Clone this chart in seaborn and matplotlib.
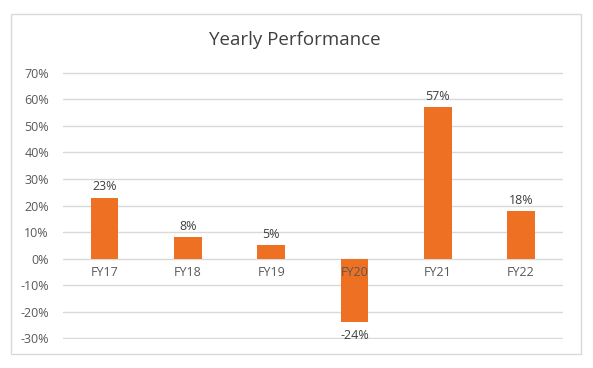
import matplotlib
matplotlib.use("Agg")
import matplotlib.pyplot as plt
import matplotlib.ticker as mticker
import matplotlib.transforms as mtrans
import seaborn as sns
import pandas as pd

# ── Data ──────────────────────────────────────────────────────────────────────
years   = ["FY17", "FY18", "FY19", "FY20", "FY21", "FY22"]
returns = [0.23, 0.08, 0.05, -0.24, 0.57, 0.18]

ORANGE = "#EE7023"
GREY   = "#595959"
GRID   = "#D9D9D9"

sns.set_theme(style="white")
plt.rcParams["font.family"] = ["Open Sans", "DejaVu Sans"]

df = pd.DataFrame({"year": years, "ret": returns})

fig = plt.figure(figsize=(5.93, 3.68), dpi=100)
ax = fig.add_axes([0.106, 0.079, 0.843, 0.725])

sns.barplot(data=df, x="year", y="ret", color=ORANGE, saturation=1,
            width=0.33, linewidth=0, ax=ax, zorder=3)

ax.set_ylim(-0.302, 0.702)
ax.set_xlim(-0.5, len(years) - 0.5)
ax.yaxis.set_major_locator(mticker.FixedLocator([i / 10 for i in range(-3, 8)]))
ax.yaxis.set_major_formatter(mticker.FuncFormatter(lambda v, _: f"{round(v*100):d}%"))
ax.grid(axis="y", color=GRID, linewidth=1, zorder=0)
for s in ax.spines.values():
    s.set_visible(False)
ax.tick_params(axis="y", length=0, labelsize=9, labelcolor=GREY, pad=10)
ax.set_xticks([])
ax.set_xlabel("")
ax.set_ylabel("")

# category labels sitting just below the zero line
off = mtrans.offset_copy(ax.transData, fig=fig, x=0, y=-5, units="points")
for i, yr in enumerate(years):
    ax.text(i, 0, yr, transform=off, ha="center", va="top",
            fontsize=9, color=GREY, zorder=4)

# data labels
for i, v in enumerate(returns):
    dy = 3 if v >= 0 else -5
    t = mtrans.offset_copy(ax.transData, fig=fig, x=0, y=dy, units="points")
    ax.text(i, v, f"{round(v*100):d}%", transform=t, ha="center",
            va="bottom" if v >= 0 else "top", fontsize=9, color="#404040", zorder=4)

fig.text(0.497, 0.89, "Yearly Performance", ha="center", va="center",
         fontsize=13.5, color="#404040")

fig.patches.append(plt.Rectangle((0.0186, 0.038), 0.961, 0.924,
                                 transform=fig.transFigure, fill=False,
                                 edgecolor=GRID, linewidth=1))

fig.savefig("out.png", dpi=100)
